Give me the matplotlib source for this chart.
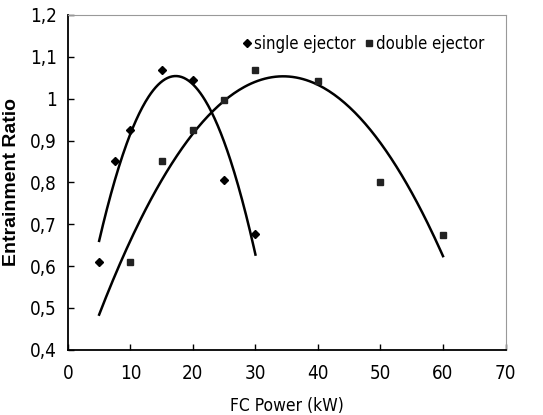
import numpy as np
import matplotlib
matplotlib.use("Agg")
import matplotlib.pyplot as plt
from matplotlib import font_manager as fm

single_x = [5, 7.5, 10, 15, 20, 25, 30]
single_y = [0.61, 0.85, 0.925, 1.068, 1.045, 0.805, 0.677]
double_x = [10, 15, 20, 25, 30, 40, 50, 60]
double_y = [0.61, 0.85, 0.925, 0.998, 1.068, 1.043, 0.80, 0.675]
x_ticks = [0, 10, 20, 30, 40, 50, 60, 70]
y_ticks = [0.4, 0.5, 0.6, 0.7, 0.8, 0.9, 1.0, 1.1, 1.2]
y_ticklabels = ["0,4", "0,5", "0,6", "0,7", "0,8", "0,9", "1", "1,1", "1,2"]

narrow = fm.FontProperties(family="DejaVu Sans", stretch="condensed", size=13.5)

fig = plt.figure(figsize=(5.43, 4.15), dpi=100)
ax = fig.add_axes([0.125, 0.157, 0.806, 0.807])

cs = np.polyfit(single_x, single_y, 2)
xs = np.linspace(5, 30, 200)
ax.plot(xs, np.polyval(cs, xs), color="black", lw=1.8)
cd = np.polyfit(double_x, double_y, 2)
xd = np.linspace(5, 60, 200)
ax.plot(xd, np.polyval(cd, xd), color="black", lw=1.8)

ax.plot(single_x, single_y, "D", color="black", ms=4.3, ls="none", label="single ejector")
ax.plot(double_x, double_y, "s", color="#222222", ms=4.3, ls="none", label="double ejector")

ax.set_xlim(0, 70)
ax.set_ylim(0.4, 1.2)
ax.set_xticks(x_ticks)
ax.set_yticks(y_ticks)
ax.set_yticklabels(y_ticklabels)
for lab in ax.get_xticklabels() + ax.get_yticklabels():
    lab.set_fontproperties(narrow)
ax.tick_params(axis="both", direction="in", length=4, width=1)
ax.tick_params(axis="x", pad=10)
ax.tick_params(axis="y", pad=8)

for s in ["top", "right"]:
    ax.spines[s].set_color("#999999")
    ax.spines[s].set_linewidth(0.8)
for s in ["left", "bottom"]:
    ax.spines[s].set_linewidth(1.3)

xl = narrow.copy(); xl.set_size(12.5)
ax.set_xlabel("FC Power (kW)", fontproperties=xl, labelpad=10)
ax.set_ylabel("Entrainment Ratio", family="Liberation Sans", fontsize=14, fontweight="bold", labelpad=7)

lp = narrow.copy(); lp.set_size(12)
leg = ax.legend(loc="upper right", ncol=2, frameon=False, prop=lp,
                handletextpad=0.0, columnspacing=0.4, handlelength=0.8, markerscale=0.9,
                bbox_to_anchor=(0.985, 0.985))

fig.savefig("out.png", dpi=100)
